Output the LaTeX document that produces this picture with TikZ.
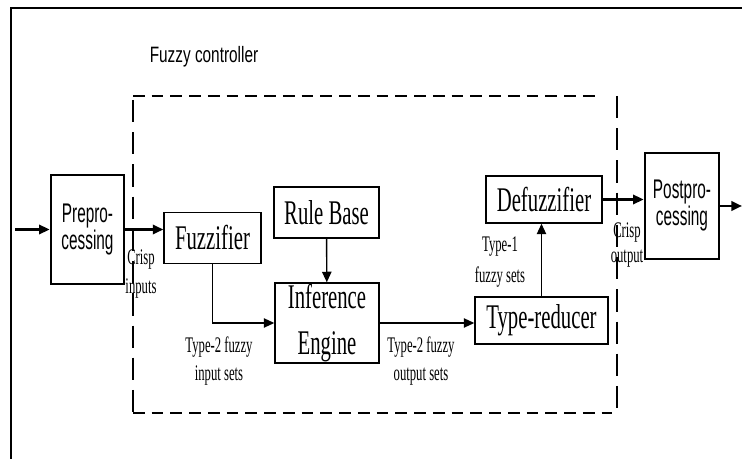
\documentclass[tikz,border=0pt]{standalone}
\usepackage{fontspec}
\usetikzlibrary{arrows.meta}
\newfontfamily\blockfont[FakeStretch=0.6]{Liberation Serif}
\newfontfamily\labelfont[FakeStretch=0.57]{Liberation Serif}
\newfontfamily\procfont[FakeStretch=0.57]{Liberation Sans}
\newfontfamily\titlefont[FakeStretch=0.69]{Liberation Sans}

\begin{document}
\begin{tikzpicture}[x=0.03cm,y=-0.03cm,
    >={Triangle[length=9pt,width=8pt]},
    blk/.style={draw,line width=1.2pt,inner sep=0pt,align=center,
      font=\blockfont\fontsize{29.5}{40}\selectfont},
    proc/.style={draw,line width=2.4pt,inner sep=0pt,align=center,
      font=\procfont\fontsize{23}{23}\selectfont},
    lbl/.style={inner sep=0pt,align=center,
      font=\labelfont\fontsize{19}{24}\selectfont},
    arr/.style={->,line width=2pt},
    thinarr/.style={->,line width=1.2pt},
    hdash/.style={line width=2.2pt,dash pattern=on 10pt off 6pt},
    vdash/.style={line width=1.5pt,dash pattern=on 19pt off 8.5pt}]
  \useasboundingbox (0,0) rectangle (742,459);
  % frame of the page
  \draw[line width=2.5pt] (11,459)--(11,8)--(742,8);
  % controller boundary
  \node[font=\titlefont\fontsize{19}{23}\selectfont] (title) at (204,57) {Fuzzy controller};
  \draw[hdash] (133,96)--(600,96) (133,413)--(612,413);
  \draw[vdash] (133,100)--(133,413) (617,96)--(617,413);
  % blocks
  \node[proc,minimum width=2.19cm,minimum height=3.27cm] (pre) at (87.5,229.5) {Prepro-\\cessing};
  \node[proc,minimum width=2.22cm,minimum height=3.18cm] (post) at (682,206) {Postpro-\\cessing};
  \node[blk,minimum width=2.91cm,minimum height=1.53cm] (fuzz) at (212.5,238) {Fuzzifier};
  \node[blk,minimum width=3.15cm,minimum height=1.53cm] (rule) at (326.5,212.5) {Rule Base};
  \node[blk,minimum width=3.12cm,minimum height=2.4cm] (inf) at (327,323) {Inference\\Engine};
  \node[blk,minimum width=3.48cm,minimum height=1.41cm] (defuz) at (544,199.5) {Defuzzifier};
  \node[blk,minimum width=3.99cm,minimum height=1.41cm] (tred) at (541.5,320.5) {Type-reducer};
  % signal labels
  \node[lbl] (crin) at (141,274) {Crisp\\inputs};
  \node[lbl] (t2in) at (219,361) {Type-2 fuzzy\\input sets};
  \node[lbl] (t2out) at (421,361) {Type-2 fuzzy\\output sets};
  \node[lbl] (t1) at (500,262) {Type-1\\[3pt]fuzzy sets};
  \node[lbl] (crout) at (627,245) {Crisp\\[-3pt]output};
  % connections
  \coordinate (src) at (15,229.5);
  \coordinate (snk) at (742,206);
  \draw[arr] (src)--(pre);
  \draw[arr] (pre.east)--(pre.east-|fuzz.west);
  \draw[thinarr] (fuzz.south)|-(inf.west);
  \draw[thinarr] (rule)--(inf);
  \draw[thinarr] (inf.east)--(inf.east-|tred.west);
  \draw[thinarr] (tred.north)--(tred.north|-defuz.south);
  \draw[arr] (defuz.east)--(defuz.east-|post.west);
  \draw[arr] (post.east)--(snk);
\end{tikzpicture}
\end{document}
